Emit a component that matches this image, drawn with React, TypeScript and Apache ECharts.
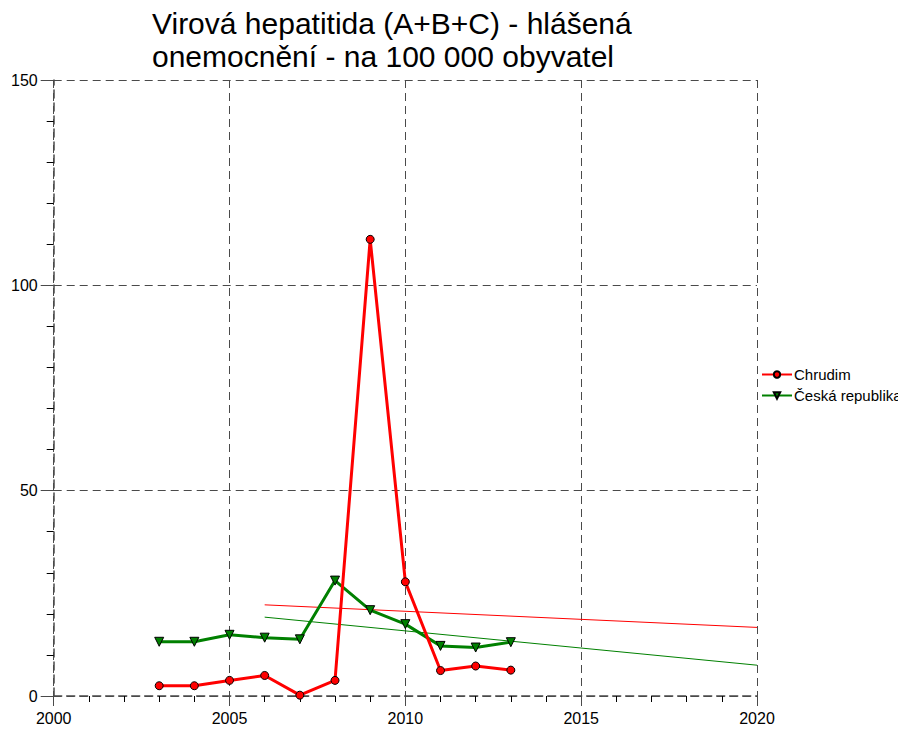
import React, { useEffect, useRef } from "react";
import * as echarts from "echarts";

const years = [2003, 2004, 2005, 2006, 2007, 2008, 2009, 2010, 2011, 2012, 2013];
const chrudim = [2.5, 2.5, 3.8, 5.0, 0.2, 3.8, 111.2, 27.8, 6.2, 7.3, 6.3];
const ceskaRepublika = [13.2, 13.2, 14.9, 14.2, 13.8, 28.1, 20.9, 17.5, 12.2, 11.8, 13.1];
const trendYears = [2006, 2020];
const chrudimTrend = [22.2, 16.7];
const crTrend = [19.2, 7.5];
const xTicks = [2000, 2005, 2010, 2015, 2020];
const yTicks = [0, 50, 100, 150];

const FONT = "'Liberation Sans', Arial, Helvetica, sans-serif";
const GRID = "#4a4a4a";

export default function App() {
  const ref = useRef<HTMLDivElement>(null);
  useEffect(() => {
    if (!ref.current) return;
    const chart = echarts.init(ref.current, undefined, { renderer: "svg" });
    const pair = (xs: number[], ys: number[]) => xs.map((x, i) => [x, ys[i]]);
    chart.setOption({
      animation: false,
      backgroundColor: "#ffffff",
      title: {
        text: "Virová hepatitida (A+B+C) - hlášená\nonemocnění - na 100 000 obyvatel",
        left: 139,
        top: -6,
        textStyle: {
          fontFamily: FONT,
          fontSize: 30,
          fontWeight: "normal",
          color: "#000",
          lineHeight: 33,
        },
      },
      legend: {
        orient: "vertical",
        left: 748,
        top: 354,
        itemWidth: 30,
        itemHeight: 8,
        itemGap: 6,
        data: ["Chrudim", "Česká republika"],
        textStyle: { fontFamily: FONT, fontSize: 15, color: "#000", padding: [0, 0, 0, -3] },
      },
      grid: { left: 42, right: 149, top: 72, bottom: 35, containLabel: false },
      xAxis: {
        type: "value",
        min: xTicks[0],
        max: xTicks[xTicks.length - 1],
        interval: 5,
        axisLine: { show: true, lineStyle: { color: GRID, width: 1.5, type: [8, 5] } },
        axisTick: { show: true, length: 10, lineStyle: { color: GRID, width: 1 } },
        minorTick: { show: true, splitNumber: 5, length: 6, lineStyle: { color: "#000" } },
        splitLine: { show: true, lineStyle: { color: GRID, width: 1, type: [8, 5] } },
        axisLabel: {
          fontFamily: FONT,
          fontSize: 16,
          color: "#000",
          margin: 14,
          formatter: (v: number) => String(v),
        },
      },
      yAxis: {
        type: "value",
        min: yTicks[0],
        max: yTicks[yTicks.length - 1],
        interval: 50,
        axisLine: { show: true, lineStyle: { color: GRID, width: 1.5, type: [8, 5] } },
        axisTick: { show: true, length: 13, lineStyle: { color: GRID, width: 1 } },
        minorTick: { show: true, splitNumber: 5, length: 7, lineStyle: { color: "#000" } },
        splitLine: { show: true, lineStyle: { color: GRID, width: 1, type: [8, 5] } },
        axisLabel: { fontFamily: FONT, fontSize: 16, color: "#000", margin: 16 },
      },
      series: [
        {
          name: "Chrudim",
          type: "line",
          data: pair(years, chrudim),
          symbol: "circle",
          symbolSize: 8,
          z: 5,
          lineStyle: { color: "#ff0000", width: 3 },
          itemStyle: { color: "#ff0000", borderColor: "#000", borderWidth: 1 },
        },
        {
          name: "Česká republika",
          type: "line",
          data: pair(years, ceskaRepublika),
          symbol: "triangle",
          symbolRotate: 180,
          symbolSize: 9,
          z: 4,
          lineStyle: { color: "#008000", width: 3 },
          itemStyle: { color: "#008000", borderColor: "#000", borderWidth: 1 },
        },
        {
          name: "Chrudim trend",
          type: "line",
          data: pair(trendYears, chrudimTrend),
          showSymbol: false,
          symbol: "none",
          z: 3,
          lineStyle: { color: "#ff0000", width: 1 },
          itemStyle: { color: "#ff0000" },
        },
        {
          name: "ČR trend",
          type: "line",
          data: pair(trendYears, crTrend),
          showSymbol: false,
          symbol: "none",
          z: 3,
          lineStyle: { color: "#008000", width: 1 },
          itemStyle: { color: "#008000" },
        },
      ],
    });
    return () => chart.dispose();
  }, []);
  return <div ref={ref} style={{ width: 898, height: 723 }} />;
}
